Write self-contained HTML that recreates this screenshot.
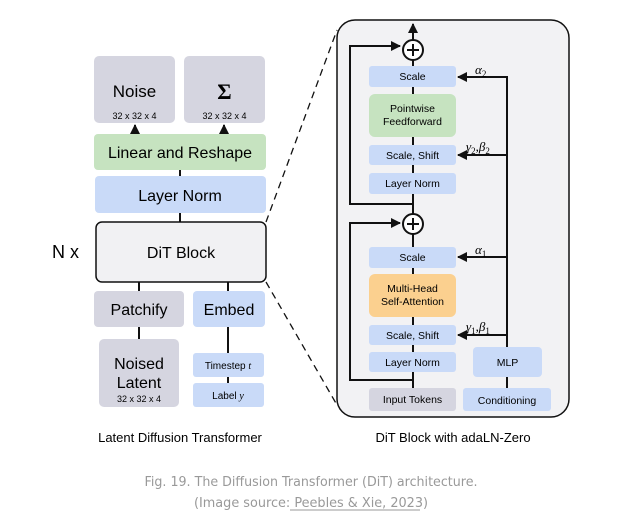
<!DOCTYPE html>
<html><head><meta charset="utf-8"><style>
html,body{margin:0;padding:0;background:#fff;}
svg{display:block;font-family:"Liberation Sans",Arial,sans-serif;}
</style></head><body>
<svg width="623" height="526" viewBox="0 0 623 526" xmlns="http://www.w3.org/2000/svg">
<defs>
<marker id="ah" viewBox="0 0 10 10" refX="9" refY="5" markerWidth="5" markerHeight="5" orient="auto"><path d="M0,0L10,5L0,10z" fill="#111"/></marker>
</defs>
<!-- LEFT -->
<g stroke="#111" stroke-width="2" fill="none">
<line x1="135" y1="134" x2="135" y2="125" marker-end="url(#ah)"/>
<line x1="224" y1="134" x2="224" y2="125" marker-end="url(#ah)"/>
<line x1="180" y1="170" x2="180" y2="176"/>
<line x1="180" y1="213" x2="180" y2="222"/>
<line x1="139" y1="282" x2="139" y2="291"/>
<line x1="228" y1="282" x2="228" y2="291"/>
<line x1="139" y1="327" x2="139" y2="339"/>
<line x1="228" y1="327" x2="228" y2="353"/>
<line x1="228" y1="377" x2="228" y2="383"/>
</g>
<rect x="94" y="56" width="81" height="67" rx="5" fill="#d5d5e0"/>
<rect x="184" y="56" width="81" height="67" rx="5" fill="#d5d5e0"/>
<text x="134.5" y="97" font-size="17" text-anchor="middle">Noise</text>
<text x="134.5" y="119" font-size="9" text-anchor="middle">32 x 32 x 4</text>
<text x="224.5" y="99" font-size="22" font-family="Liberation Serif,serif" font-weight="bold" text-anchor="middle">Σ</text>
<text x="224.5" y="119" font-size="9" text-anchor="middle">32 x 32 x 4</text>
<rect x="94" y="134" width="172" height="36" rx="4" fill="#c6e3c0"/>
<text x="180" y="158" font-size="16" text-anchor="middle">Linear and Reshape</text>
<rect x="95" y="176" width="171" height="37" rx="4" fill="#c9daf8"/>
<text x="180" y="201" font-size="16" text-anchor="middle">Layer Norm</text>
<rect x="96" y="222" width="170" height="60" rx="6" fill="#f1f1f3" stroke="#111" stroke-width="1.5"/>
<text x="181" y="258" font-size="16" text-anchor="middle">DiT Block</text>
<text x="52" y="258" font-size="18">N x</text>
<rect x="94" y="291" width="90" height="36" rx="4" fill="#d5d5e0"/>
<text x="139" y="315" font-size="16" text-anchor="middle">Patchify</text>
<rect x="193" y="291" width="72" height="36" rx="4" fill="#c9daf8"/>
<text x="229" y="315" font-size="16" text-anchor="middle">Embed</text>
<rect x="99" y="339" width="80" height="68" rx="5" fill="#d5d5e0"/>
<text x="139" y="369" font-size="16" text-anchor="middle">Noised</text>
<text x="139" y="388" font-size="16" text-anchor="middle">Latent</text>
<text x="139" y="402" font-size="9" text-anchor="middle">32 x 32 x 4</text>
<rect x="193" y="353" width="71" height="24" rx="3" fill="#c9daf8"/>
<text x="228" y="369" font-size="10" text-anchor="middle">Timestep <tspan font-family="Liberation Serif,serif" font-style="italic">t</tspan></text>
<rect x="193" y="383" width="71" height="24" rx="3" fill="#c9daf8"/>
<text x="228" y="399" font-size="10" text-anchor="middle">Label <tspan font-family="Liberation Serif,serif" font-style="italic">y</tspan></text>
<text x="180" y="442" font-size="13" text-anchor="middle">Latent Diffusion Transformer</text>
<!-- dashed -->
<line x1="266" y1="222" x2="337" y2="30" stroke="#111" stroke-width="1.3" stroke-dasharray="7,5"/>
<line x1="266" y1="282" x2="337" y2="405" stroke="#111" stroke-width="1.3" stroke-dasharray="7,5"/>
<!-- RIGHT -->
<rect x="337" y="20" width="232" height="397" rx="18" fill="#f2f2f4" stroke="#111" stroke-width="1.5"/>
<g stroke="#111" stroke-width="2" fill="none">
<line x1="413" y1="388" x2="413" y2="234"/>
<line x1="413" y1="214" x2="413" y2="60"/>
<line x1="413" y1="40" x2="413" y2="24" marker-end="url(#ah)"/>
<polyline points="413,380 350,380 350,223 400,223" marker-end="url(#ah)"/>
<polyline points="413,204 350,204 350,46 400,46" marker-end="url(#ah)"/>
<line x1="507" y1="388" x2="507" y2="377"/>
<polyline points="507,347 507,77 458,77" marker-end="url(#ah)"/>
<line x1="507" y1="155" x2="458" y2="155" marker-end="url(#ah)"/>
<line x1="507" y1="257" x2="458" y2="257" marker-end="url(#ah)"/>
<line x1="507" y1="335" x2="458" y2="335" marker-end="url(#ah)"/>
</g>
<g fill="#c9daf8">
<rect x="369" y="66" width="87" height="21" rx="3"/>
<rect x="369" y="145" width="87" height="20" rx="3"/>
<rect x="369" y="173" width="87" height="21" rx="3"/>
<rect x="369" y="247" width="87" height="21" rx="3"/>
<rect x="369" y="325" width="87" height="20" rx="3"/>
<rect x="369" y="352" width="87" height="20" rx="3"/>
<rect x="473" y="347" width="69" height="30" rx="4"/>
<rect x="463" y="388" width="88" height="23" rx="3"/>
</g>
<rect x="369" y="94" width="87" height="43" rx="6" fill="#c6e3c0"/>
<rect x="369" y="274" width="87" height="43" rx="6" fill="#fbd08f"/>
<rect x="369" y="388" width="87" height="23" rx="3" fill="#d5d5e0"/>
<g font-size="10.5" text-anchor="middle">
<text x="412.5" y="80">Scale</text>
<text x="412.5" y="112">Pointwise</text>
<text x="412.5" y="125">Feedforward</text>
<text x="412.5" y="159">Scale, Shift</text>
<text x="412.5" y="187">Layer Norm</text>
<text x="412.5" y="261">Scale</text>
<text x="412.5" y="292">Multi-Head</text>
<text x="412.5" y="305">Self-Attention</text>
<text x="412.5" y="339">Scale, Shift</text>
<text x="412.5" y="366">Layer Norm</text>
<text x="412.5" y="403">Input Tokens</text>
<text x="507.5" y="366">MLP</text>
<text x="507" y="404">Conditioning</text>
</g>
<g font-family="Liberation Serif,serif" font-style="italic" font-size="13">
<text x="475" y="74">α<tspan font-size="9" dy="3" font-style="normal">2</tspan></text>
<text x="466" y="151">γ<tspan font-size="9" dy="3" font-style="normal">2</tspan><tspan dy="-3" font-style="normal">,</tspan>β<tspan font-size="9" dy="3" font-style="normal">2</tspan></text>
<text x="475" y="254">α<tspan font-size="9" dy="3" font-style="normal">1</tspan></text>
<text x="466" y="331">γ<tspan font-size="9" dy="3" font-style="normal">1</tspan><tspan dy="-3" font-style="normal">,</tspan>β<tspan font-size="9" dy="3" font-style="normal">1</tspan></text>
</g>
<g stroke="#111" stroke-width="2" fill="#fff">
<circle cx="413" cy="50" r="10"/>
<circle cx="413" cy="224" r="10"/>
</g>
<g stroke="#111" stroke-width="2">
<line x1="407" y1="50" x2="419" y2="50"/><line x1="413" y1="44" x2="413" y2="56"/>
<line x1="407" y1="224" x2="419" y2="224"/><line x1="413" y1="218" x2="413" y2="230"/>
</g>
<text x="453" y="442" font-size="13" text-anchor="middle">DiT Block with adaLN-Zero</text>
<!-- caption -->
<text x="311" y="486" font-size="13.5" fill="#999" text-anchor="middle" font-family="DejaVu Sans,sans-serif" textLength="333" lengthAdjust="spacingAndGlyphs">Fig. 19. The Diffusion Transformer (DiT) architecture.</text>
<text x="311" y="507" font-size="13.5" fill="#999" text-anchor="middle" font-family="DejaVu Sans,sans-serif" textLength="234" lengthAdjust="spacingAndGlyphs">(Image source: Peebles &amp; Xie, 2023)</text>
<line x1="290" y1="510" x2="420" y2="510" stroke="#999" stroke-width="1"/>
</svg>
</body></html>
